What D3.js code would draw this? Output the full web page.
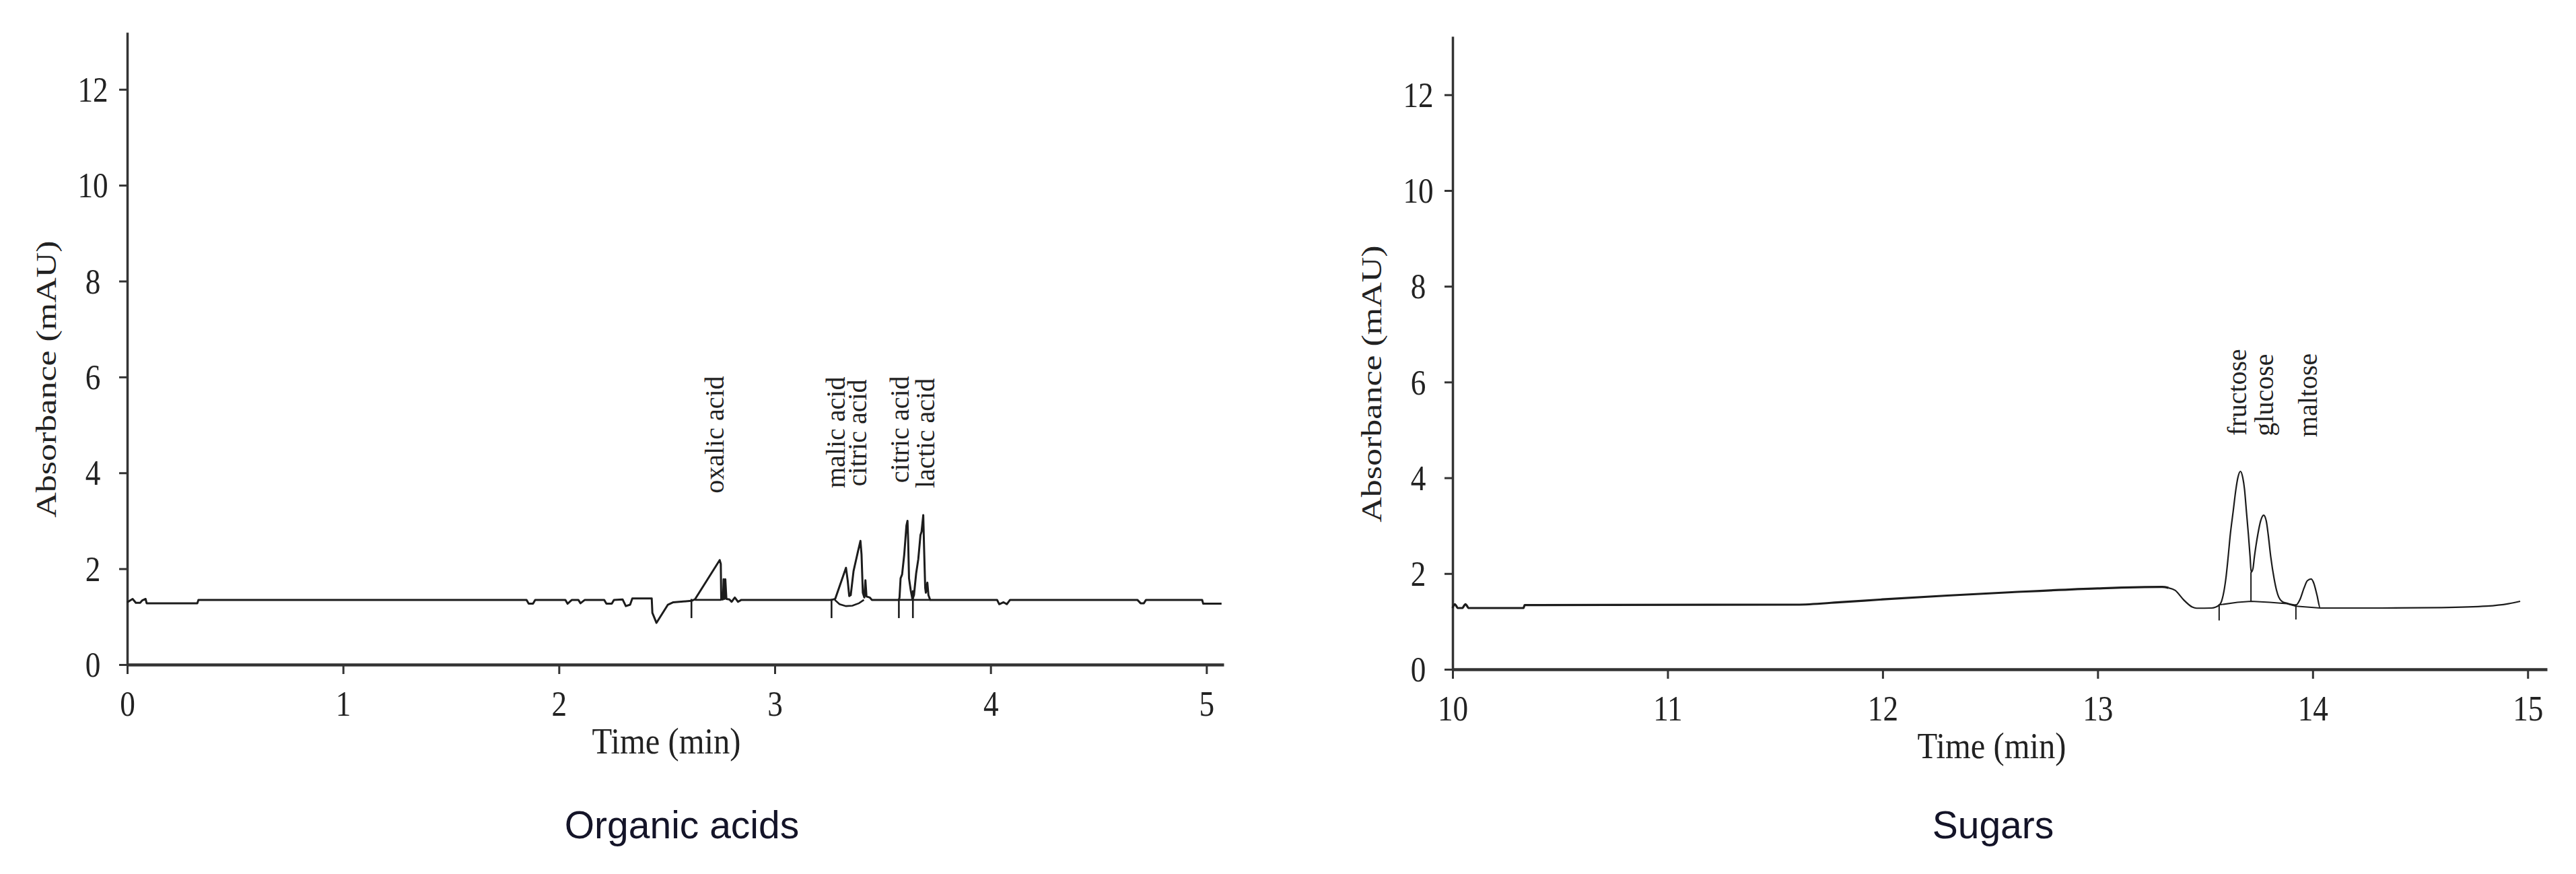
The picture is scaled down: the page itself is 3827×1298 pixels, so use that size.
<!DOCTYPE html>
<html><head><meta charset="utf-8">
<script src="https://cdn.jsdelivr.net/npm/d3@7"></script>
<style>body{margin:0;background:#fff}svg{display:block}</style>
</head><body>
<svg id="c" width="3827" height="1298"></svg>
<script>
// ---------- DATA ----------
const yTicks = [0, 2, 4, 6, 8, 10, 12];
const acidTicks = [0, 1, 2, 3, 4, 5];
const sugarTicks = [10, 11, 12, 13, 14, 15];

// Organic acids chromatogram [time (min), absorbance (mAU)]
const acidTrace = [
  [0,1.30],[0.025,1.37],[0.04,1.29],[0.06,1.29],[0.07,1.34],[0.085,1.37],[0.09,1.28],[0.325,1.28],[0.33,1.35],
  [1.85,1.35],[1.86,1.27],[1.88,1.27],[1.89,1.35],
  [2.03,1.35],[2.04,1.27],[2.06,1.35],
  [2.09,1.35],[2.10,1.28],[2.12,1.35],
  [2.21,1.35],[2.22,1.27],[2.245,1.27],[2.255,1.35],
  [2.295,1.36],[2.31,1.22],[2.33,1.25],[2.34,1.38],
  [2.43,1.38],[2.433,1.08],[2.452,0.87],[2.505,1.25],[2.53,1.30],[2.614,1.33],
  [2.63,1.36],[2.745,2.18],[2.75,2.10],[2.752,1.36],[2.76,1.36],[2.763,1.78],[2.767,1.37],[2.771,1.78],[2.776,1.37],
  [2.79,1.36],[2.80,1.31],[2.815,1.40],[2.83,1.31],[2.845,1.35],
  [3.263,1.35],[3.28,1.37],[3.33,2.02],[3.338,1.75],[3.345,1.43],[3.352,1.45],[3.365,1.95],[3.385,2.35],[3.397,2.58],[3.402,2.30],[3.408,1.50],[3.415,1.40],[3.42,1.76],[3.425,1.42],[3.44,1.40],[3.45,1.35],
  [3.575,1.35],[3.578,1.40],[3.583,1.80],[3.59,1.88],[3.60,2.30],[3.61,2.90],[3.615,3.00],[3.618,2.60],[3.622,1.80],[3.63,1.55],[3.638,1.36],[3.645,1.45],[3.655,1.90],[3.665,2.20],[3.675,2.70],[3.68,2.77],[3.688,3.12],[3.692,2.40],[3.697,1.60],[3.70,1.50],[3.707,1.71],[3.712,1.45],[3.72,1.35],
  [4.03,1.35],[4.04,1.26],[4.06,1.30],[4.075,1.26],[4.09,1.35],
  [4.68,1.35],[4.695,1.28],[4.71,1.28],[4.72,1.35],
  [4.98,1.35],[4.985,1.27],[5.07,1.27]
];
// integration marks (event ticks, drop baselines)
const acidMarks = [
  [[2.614,1.37],[2.614,0.97]],
  [[2.63,1.35],[2.752,1.35]],
  [[3.263,1.37],[3.263,0.97]],
  [[3.278,1.35],[3.30,1.26],[3.33,1.22],[3.36,1.23],[3.39,1.28],[3.413,1.35]],
  [[3.575,1.37],[3.575,0.97]],
  [[3.640,1.55],[3.640,0.97]],
  [[3.575,1.35],[3.72,1.35]]
];
const acidLabels = [
  {name:"oxalic acid", t:2.764, v:3.57},
  {name:"malic acid",  t:3.325, v:3.68},
  {name:"citric acid", t:3.425, v:3.72},
  {name:"citric acid", t:3.621, v:3.79},
  {name:"lactic acid", t:3.740, v:3.68}
];

// Sugars chromatogram
const sugarTraceA = [
  [10,1.28],[10.01,1.36],[10.025,1.28],[10.045,1.28],[10.06,1.36],[10.075,1.28],[10.33,1.28],[10.335,1.34],
  [11.6,1.35],[11.8,1.40],[12.0,1.46],[12.3,1.54],[12.6,1.61],[13.0,1.69],[13.3,1.72],[13.33,1.70]
];
const sugarTraceB = [
  [13.33,1.70],[13.36,1.65],[13.40,1.45],[13.44,1.30],[13.46,1.276],[13.53,1.28],[13.565,1.34],
  [13.576,1.42],[13.59,1.70],[13.596,1.885],[13.607,2.35],[13.617,2.82],[13.630,3.29],[13.643,3.76],[13.652,4.0],[13.664,4.135],
  [13.675,4.0],[13.683,3.76],[13.692,3.29],[13.701,2.82],[13.709,2.35],[13.714,2.03],
  [13.722,2.1],[13.729,2.35],[13.745,2.82],[13.758,3.1],[13.772,3.22],[13.784,3.1],[13.793,2.82],[13.805,2.35],[13.821,1.885],[13.832,1.65],[13.842,1.51],[13.857,1.42],[13.88,1.38],[13.922,1.34],
  [13.94,1.45],[13.96,1.7],[13.975,1.85],[13.993,1.885],[14.005,1.8],[14.02,1.55],[14.035,1.28],
  [14.3,1.28],[14.6,1.29],[14.81,1.32],[14.91,1.37],[14.965,1.42]
];
const sugarMarks = [
  [[13.565,1.36],[13.565,1.02]],
  [[13.922,1.36],[13.922,1.04]],
  [[13.713,2.03],[13.713,1.42]],
  [[13.565,1.345],[13.65,1.40],[13.714,1.42],[13.80,1.40],[13.88,1.37],[13.922,1.32],[14.035,1.28]]
];
const sugarLabels = [
  {name:"fructose", t:13.69,  v:4.88},
  {name:"glucose",  t:13.816, v:4.87},
  {name:"maltose",  t:14.02,  v:4.85}
];

// ---------- LAYOUT ----------
const panels = [
  {title:"Organic acids", titleX:1013, xDomain:[0,5.08], xRange:[189,1818], yDomain:[0,13.19], yRange:[987,48],
   xTicks:acidTicks, traces:[{d:acidTrace,w:3,curve:d3.curveLinear}], marks:acidMarks, markW:2.6, labels:acidLabels},
  {title:"Sugars", titleX:2961, xDomain:[10,15.09], xRange:[2158,3784], yDomain:[0,13.22], yRange:[994,54],
   xTicks:sugarTicks, traces:[{d:sugarTraceA,w:3.2,curve:d3.curveMonotoneX},{d:sugarTraceB,w:2.2,curve:d3.curveMonotoneX}], marks:sugarMarks, markW:2, labels:sugarLabels}
];

const svg = d3.select("#c");
const SERIF = "'Liberation Serif','Times New Roman',serif";
const SX = 0.87;
const ink = "#222";

panels.forEach(p => {
  const x = d3.scaleLinear().domain(p.xDomain).range(p.xRange);
  const y = d3.scaleLinear().domain(p.yDomain).range(p.yRange);
  const x0 = p.xRange[0], y0 = y(0);
  const g = svg.append("g");

  // x axis
  const gx = g.append("g").attr("transform", `translate(0,${y0})`)
    .call(d3.axisBottom(x).tickValues(p.xTicks).tickSize(14).tickSizeOuter(0).tickFormat(d3.format("d")));
  gx.select(".domain").attr("stroke","#333").attr("stroke-width",4.5);
  gx.selectAll(".tick line").attr("stroke","#333").attr("stroke-width",3);
  gx.selectAll(".tick text").attr("y",76).attr("dy",0)
    .attr("transform",`scale(${SX},1)`)
    .attr("font-family",SERIF).attr("font-size",52).attr("fill",ink);

  // y axis
  const gy = g.append("g").attr("transform", `translate(${x0},0)`)
    .call(d3.axisLeft(y).tickValues(yTicks).tickSize(12).tickSizeOuter(0));
  gy.select(".domain").attr("stroke","#333").attr("stroke-width",3.5);
  gy.selectAll(".tick line").attr("stroke","#333").attr("stroke-width",3);
  gy.selectAll(".tick text").attr("x",-51/SX).attr("dy","0.34em").attr("text-anchor","middle")
    .attr("transform",`scale(${SX},1)`)
    .attr("font-family",SERIF).attr("font-size",52).attr("fill",ink);

  // axis titles
  g.append("text").attr("transform",`translate(${x0+801},${y0+132}) scale(0.9,1)`)
    .attr("text-anchor","middle").attr("font-family",SERIF).attr("font-size",54).attr("fill",ink)
    .text("Time (min)");
  g.append("text").attr("transform",`translate(${x0-106},${y0-424}) rotate(-90) scale(1,0.83)`)
    .attr("text-anchor","middle").attr("font-family",SERIF).attr("font-size",52).attr("fill",ink)
    .text("Absorbance (mAU)");

  // traces
  p.traces.forEach(tr => {
    const line = d3.line().x(d=>x(d[0])).y(d=>y(d[1])).curve(tr.curve);
    g.append("path").attr("d",line(tr.d)).attr("fill","none").attr("stroke","#1c1c1c")
      .attr("stroke-width",tr.w).attr("stroke-linejoin","round");
  });
  const mline = d3.line().x(d=>x(d[0])).y(d=>y(d[1]));
  g.selectAll("path.mark").data(p.marks).join("path").attr("class","mark")
    .attr("d",mline).attr("fill","none").attr("stroke","#1c1c1c").attr("stroke-width",p.markW);

  // peak labels
  g.selectAll("text.peak").data(p.labels).join("text").attr("class","peak")
    .attr("transform",d=>`translate(${x(d.t)},${y(d.v)}) rotate(-90)`)
    .attr("font-family",SERIF).attr("font-size",40).attr("fill",ink)
    .text(d=>d.name);

  // panel caption
  svg.append("text").attr("x",p.titleX).attr("y",1245).attr("text-anchor","middle")
    .attr("font-family","'Liberation Sans',Arial,sans-serif").attr("font-size",57).attr("fill","#141428")
    .text(p.title);
});
</script>
</body></html>
